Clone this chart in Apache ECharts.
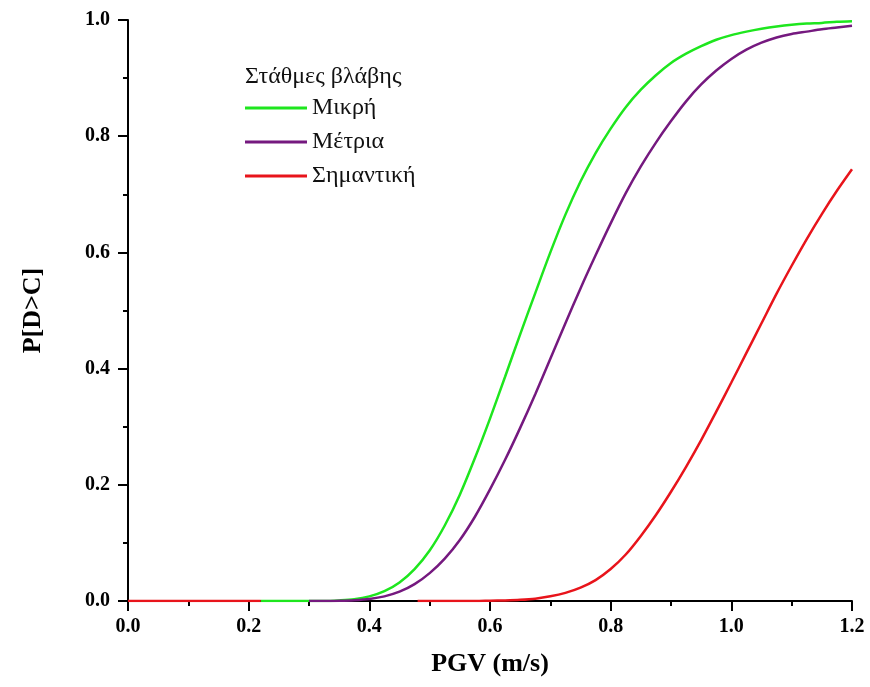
<!DOCTYPE html>
<html>
<head>
<meta charset="utf-8">
<script src="https://cdn.jsdelivr.net/npm/echarts@6/dist/echarts.min.js"></script>
<style>
html,body{margin:0;padding:0;background:#fff;}
#chart{width:870px;height:687px;}
</style>
</head>
<body>
<div id="chart"></div>
<script>
// ---- data ----
const seriesNames = ['Μικρή', 'Μέτρια', 'Σημαντική'];
const legendTitle = 'Στάθμες βλάβης';
const xAxisName = 'PGV (m/s)';
const yAxisName = 'P[D>C]';
const xTicks = [0.0, 0.2, 0.4, 0.6, 0.8, 1.0, 1.2];
const yTicks = [0.0, 0.2, 0.4, 0.6, 0.8, 1.0];

const pgvMinor = [0.22, 0.25, 0.30, 0.325, 0.35, 0.375, 0.40, 0.425, 0.45, 0.475, 0.50, 0.525, 0.55, 0.575, 0.60, 0.625, 0.65, 0.675, 0.70, 0.725, 0.75, 0.775, 0.80, 0.825, 0.85, 0.875, 0.90, 0.925, 0.95, 0.975, 1.00, 1.025, 1.05, 1.075, 1.10, 1.125, 1.15, 1.175, 1.20];
const pMinor = [0, 0, 0, 0, 0.001, 0.003, 0.008, 0.017, 0.032, 0.055, 0.087, 0.130, 0.183, 0.246, 0.314, 0.386, 0.459, 0.530, 0.600, 0.665, 0.722, 0.771, 0.813, 0.850, 0.880, 0.905, 0.926, 0.942, 0.955, 0.966, 0.974, 0.980, 0.985, 0.989, 0.992, 0.994, 0.995, 0.997, 0.998];

const pgvModerate = [0.30, 0.325, 0.35, 0.375, 0.40, 0.425, 0.45, 0.475, 0.50, 0.525, 0.55, 0.575, 0.60, 0.625, 0.65, 0.675, 0.70, 0.725, 0.75, 0.775, 0.80, 0.825, 0.85, 0.875, 0.90, 0.925, 0.95, 0.975, 1.00, 1.025, 1.05, 1.075, 1.10, 1.125, 1.15, 1.175, 1.20];
const pModerate = [0, 0, 0.0005, 0.0015, 0.0036, 0.008, 0.016, 0.029, 0.048, 0.073, 0.105, 0.145, 0.192, 0.243, 0.298, 0.356, 0.417, 0.478, 0.538, 0.595, 0.650, 0.702, 0.748, 0.789, 0.826, 0.860, 0.889, 0.913, 0.933, 0.949, 0.961, 0.970, 0.976, 0.980, 0.984, 0.987, 0.990];

const pgvExtensive = [0, 0.10, 0.22, 0.30, 0.48, 0.50, 0.525, 0.55, 0.575, 0.60, 0.625, 0.65, 0.675, 0.70, 0.725, 0.75, 0.775, 0.80, 0.825, 0.85, 0.875, 0.90, 0.925, 0.95, 0.975, 1.00, 1.025, 1.05, 1.075, 1.10, 1.125, 1.15, 1.175, 1.20];
const pExtensive = [0, 0, 0, null, 0, 0, 0, 0, 0, 0.0005, 0.001, 0.002, 0.004, 0.008, 0.014, 0.023, 0.036, 0.055, 0.080, 0.112, 0.148, 0.188, 0.231, 0.277, 0.326, 0.376, 0.427, 0.478, 0.529, 0.577, 0.623, 0.666, 0.706, 0.743];

const colors = ['#1ee61e', '#75197f', '#e8141b'];

function pairs(xs, ys) { return xs.map((x, i) => [x, ys[i] === null ? '-' : ys[i]]); }

const chart = echarts.init(document.getElementById('chart'), null, {renderer: 'canvas'});
const serif = '"Liberation Serif", "DejaVu Serif", serif';
const axisCommon = {
  axisLine: {show: true, onZero: false, lineStyle: {color: '#000', width: 2}},
  axisTick: {show: true, inside: false, length: 10, lineStyle: {color: '#000', width: 2}},
  minorTick: {show: true, splitNumber: 2, length: 5, lineStyle: {color: '#000', width: 2}},
  splitLine: {show: false},
  axisLabel: {color: '#000', fontFamily: serif, fontWeight: 'bold', fontSize: 20, formatter: v => v.toFixed(1)},
  nameLocation: 'middle',
  nameTextStyle: {color: '#000', fontFamily: serif, fontWeight: 'bold', fontSize: 26}
};
const seriesData = [[pgvMinor, pMinor], [pgvModerate, pModerate], [pgvExtensive, pExtensive]];

chart.setOption({
  animation: false,
  backgroundColor: '#fff',
  title: {
    text: legendTitle, left: 245, top: 64, padding: 0,
    textStyle: {fontFamily: serif, fontWeight: 'normal', fontSize: 24, lineHeight: 26, color: '#111'}
  },
  legend: {
    orient: 'vertical', left: 245, top: 96, padding: 0,
    icon: 'rect', itemWidth: 62, itemHeight: 3, itemGap: 10,
    data: seriesNames,
    textStyle: {fontFamily: serif, fontSize: 24, lineHeight: 24, color: '#111'}
  },
  grid: {left: 128, right: 18, top: 20, bottom: 86, containLabel: false},
  xAxis: Object.assign({}, axisCommon, {
    type: 'value', min: xTicks[0], max: xTicks[xTicks.length - 1], interval: 0.2,
    name: xAxisName, nameGap: 50,
    axisLabel: Object.assign({}, axisCommon.axisLabel, {margin: 16})
  }),
  yAxis: Object.assign({}, axisCommon, {
    type: 'value', min: yTicks[0], max: yTicks[yTicks.length - 1], interval: 0.2,
    name: yAxisName, nameGap: 82,
    axisLabel: Object.assign({}, axisCommon.axisLabel, {margin: 18})
  }),
  series: seriesNames.map((n, i) => ({
    name: n, type: 'line', showSymbol: false, symbol: 'none',
    smooth: 0.3, connectNulls: false,
    data: pairs(seriesData[i][0], seriesData[i][1]),
    lineStyle: {color: colors[i], width: 2.5},
    itemStyle: {color: colors[i]},
    emphasis: {disabled: true}, z: 3 + i
  }))
});
</script>
</body>
</html>
